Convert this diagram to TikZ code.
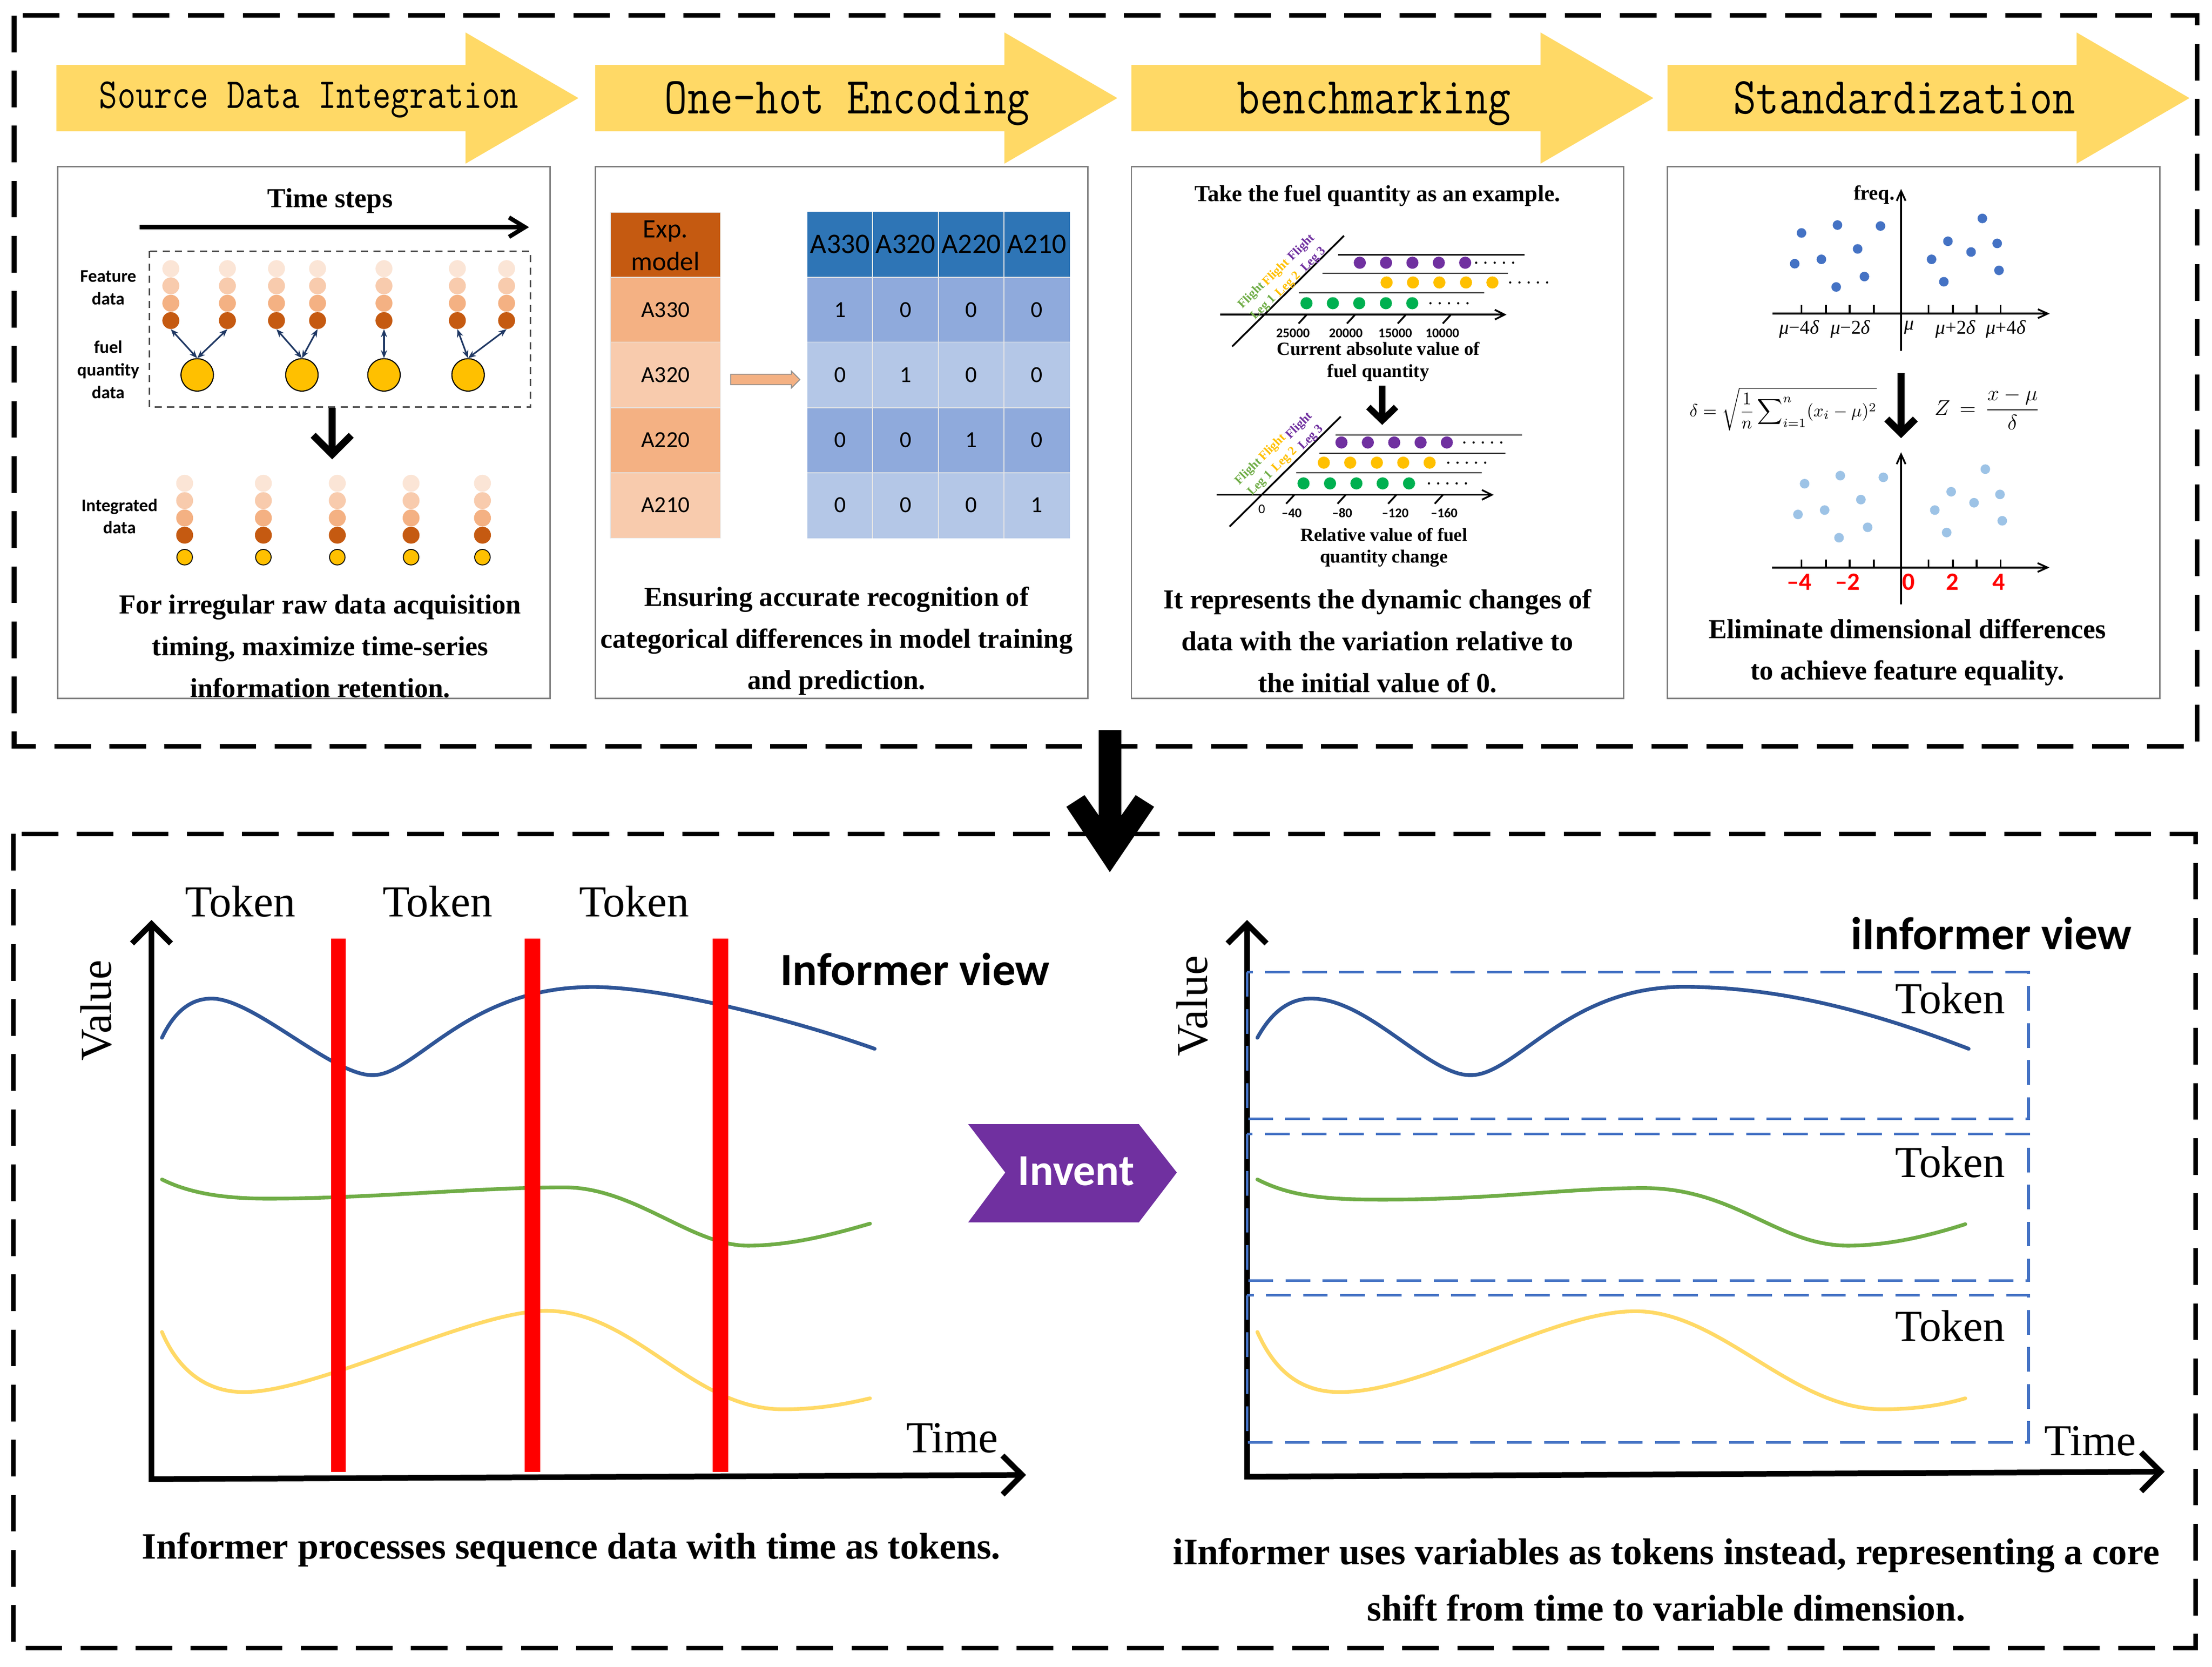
\documentclass[tikz,border=0pt]{standalone}
\usepackage{amsmath}
\usepackage{fontspec}
\setmainfont{Liberation Serif}
\newfontfamily\calfont{Carlito}
\usetikzlibrary{arrows.meta}
\definecolor{hdyel}{HTML}{FFD966}
\definecolor{or1}{HTML}{FBE5D6}
\definecolor{or2}{HTML}{F8CBAD}
\definecolor{or3}{HTML}{F4B183}
\definecolor{or4}{HTML}{C55A11}
\definecolor{fuely}{HTML}{FFC000}
\definecolor{navy}{HTML}{1F3864}
\definecolor{tbh}{HTML}{2E75B6}
\definecolor{tb1}{HTML}{8FAADC}
\definecolor{tb2}{HTML}{B4C7E7}
\definecolor{purp}{HTML}{7030A0}
\definecolor{grn}{HTML}{00B050}
\definecolor{leggrn}{HTML}{70AD47}
\definecolor{dotblue}{HTML}{4472C4}
\definecolor{ltblue}{HTML}{9DC3E6}
\definecolor{cblue}{HTML}{2F5597}
\definecolor{cgreen}{HTML}{70AD47}
\definecolor{cyel}{HTML}{FFD966}
\begin{document}
\begin{tikzpicture}[x=0.028cm, y=-0.028cm,
  outerdash/.style={draw=black, line width=2.6pt, dash pattern=on 20.7pt off 10.4pt},
  panel/.style={draw=black!50, line width=0.8pt},
  hdarrow/.style={fill=hdyel},
  hdtext/.style={inner sep=0, anchor=base, font=\ttfamily\fontsize{25pt}{30pt}\selectfont},
  pcap/.style={inner sep=0, align=center, font=\bfseries\fontsize{15.5pt}{23.5pt}\selectfont},
  slbl/.style={inner sep=0, align=center, font=\calfont\bfseries\fontsize{10pt}{12.7pt}\selectfont},
  dbl/.style={draw=navy, line width=0.9pt, {Stealth[length=4.5pt,width=3.5pt]}-{Stealth[length=4.5pt,width=3.5pt]}},
  fuel/.style={circle, fill=fuely, draw=black, line width=0.6pt, inner sep=0, minimum size=18.3pt},
  cell/.style={draw=white!80!gray, line width=0.5pt},
  ttext/.style={inner sep=0, font=\calfont\fontsize{13pt}{15pt}\selectfont},
  thtext/.style={inner sep=0, align=center, font=\calfont\fontsize{16pt}{18.6pt}\selectfont},
  hline/.style={line width=0.6pt},
  axthin/.style={line width=1pt, -{Straight Barb[length=5.5pt,width=5.5pt]}},
  flbl/.style={inner sep=0, align=center, rotate=45, font=\bfseries\fontsize{7pt}{9.5pt}\selectfont},
  ticklbl/.style={inner sep=0, font=\calfont\bfseries\fontsize{7.5pt}{9pt}\selectfont},
  sublbl/.style={inner sep=0, align=center, font=\bfseries\fontsize{10.5pt}{12.3pt}\selectfont},
  downarr/.style={line width=4pt, miter limit=10},
  bigax/.style={line width=3.2pt, {Straight Barb[length=11pt,width=22pt]}-{Straight Barb[length=11pt,width=22pt]}},
  bigtxt/.style={inner sep=0, font=\fontsize{25pt}{30pt}\selectfont},
  viewtxt/.style={inner sep=0, font=\calfont\bfseries\fontsize{26pt}{30pt}\selectfont},
  crv/.style={line width=2.1pt, line cap=round},
  bcap/.style={inner sep=0, align=center, font=\bfseries\fontsize{21pt}{31.9pt}\selectfont},
  tokbox/.style={draw=dotblue, line width=1.5pt, dash pattern=on 13.9pt off 7pt},
  redlbl/.style={inner sep=0, text=red, font=\calfont\bfseries\fontsize{14pt}{16pt}\selectfont},
  mulbl/.style={inner sep=0, font=\fontsize{11pt}{13pt}\selectfont},
]
\useasboundingbox (0,0) rectangle (1568,1181.4);
\fill[white] (0,0) rectangle (1568,1181.4);

% ---------- outer dashed boxes ----------
\draw[outerdash] (10,11) rectangle (1557.5,529);
\draw[outerdash] (9.5,591) rectangle (1556.5,1168);

% ---------- heading arrows ----------
\foreach \x in {40,422,802,1182}{
  \fill[hdarrow] (\x,46) -- (\x+290,46) -- (\x+290,23) -- (\x+370,69.5) -- (\x+290,116) -- (\x+290,93) -- (\x,93) -- cycle;
}
\node[hdtext, font=\ttfamily\fontsize{20pt}{24pt}\selectfont] (h1) at (219,76.8) {\scalebox{1}[1.2]{Source Data Integration}};
\node[hdtext] (h2) at (600.5,80.4) {\scalebox{1}[1.17]{One-hot Encoding}};
\node[hdtext] (h3) at (974,80.4) {\scalebox{1}[1.17]{benchmarking}};
\node[hdtext] (h4) at (1350,80.4) {\scalebox{1}[1.17]{Standardization}};

% ---------- panels ----------
\draw[panel] (41,118) rectangle (390,495);
\draw[panel] (422,118) rectangle (771,495);
\draw[panel] (802,118) rectangle (1151,495);
\draw[panel] (1182,118) rectangle (1531,495);

% ---------- panel 1 ----------
\node[inner sep=0, font=\bfseries\fontsize{15.5pt}{18pt}\selectfont] (ts) at (234,142.5) {Time steps};
\draw[line width=2.4pt, -{Straight Barb[length=9pt,width=11pt]}] (99,161) -- (375,161);
\draw[black!70, line width=0.8pt, dash pattern=on 4pt off 3pt] (106,178) rectangle (376,288.6);
\foreach \x in {121.1,161.2,196,225.1,272.2,324.2,359.1}{
  \fill[or1] (\x,190.4) circle[radius=6];
  \fill[or2] (\x,202.6) circle[radius=6];
  \fill[or3] (\x,214.9) circle[radius=6];
  \fill[or4] (\x,227.2) circle[radius=6];
}
\node[fuel] (f1) at (139.8,265.7) {};
\node[fuel] (f2) at (214.0,265.7) {};
\node[fuel] (f3) at (272.2,265.7) {};
\node[fuel] (f4) at (331.8,265.7) {};
\coordinate (c1) at (121.1,233.3);
\coordinate (c2) at (161.2,233.3);
\coordinate (c3) at (196,233.3);
\coordinate (c4) at (225.1,233.3);
\coordinate (c5) at (272.2,233.3);
\coordinate (c6) at (324.2,233.3);
\coordinate (c7) at (359.1,233.3);
\draw[dbl] (f1.north) -- (c1);
\draw[dbl] (f1.north) -- (c2);
\draw[dbl] (f2.north) -- (c3);
\draw[dbl] (f2.north) -- (c4);
\draw[dbl] (f3.north) -- (c5);
\draw[dbl] (f4.north) -- (c6);
\draw[dbl] (f4.north) -- (c7);
\node[slbl] (featlbl) at (76.7,204) {Feature\\data};
\node[slbl] (fuellbl) at (76.7,262) {fuel\\quantity\\data};
\draw[downarr] (235.5,289) -- (235.5,321);
\draw[downarr] (222,308.5) -- (235.5,322) -- (249,308.5);
\foreach \x in {130.9,186.7,239.1,291.4,342}{
  \fill[or1] (\x,342.5) circle[radius=6];
  \fill[or2] (\x,354.8) circle[radius=6];
  \fill[or3] (\x,367.1) circle[radius=6];
  \fill[or4] (\x,379.3) circle[radius=6];
  \filldraw[fill=fuely, draw=black, line width=0.5pt] (\x,394.9) circle[radius=5.5];
}
\node[slbl] (intlbl) at (84.7,366) {Integrated\\data};
\node[pcap] (cap1) at (227,458) {For irregular raw data acquisition\\timing, maximize time-series\\information retention.};

% ---------- panel 2 ----------
\fill[or4] (432.7,150.6) rectangle (510.7,196.5);
\fill[or3] (432.7,196.5) rectangle (510.7,242.4);
\fill[or2] (432.7,242.4) rectangle (510.7,289);
\fill[or3] (432.7,289) rectangle (510.7,335.2);
\fill[or2] (432.7,335.2) rectangle (510.7,381.4);
\draw[cell] (432.7,150.6) rectangle (510.7,381.4);
\foreach \y in {196.5,242.4,289,335.2}{\draw[cell] (432.7,\y) -- (510.7,\y);}
\fill[tbh] (572.3,149.9) rectangle (758.4,196.5);
\fill[tb1] (572.3,196.5) rectangle (758.4,242.4);
\fill[tb2] (572.3,242.4) rectangle (758.4,289);
\fill[tb1] (572.3,289) rectangle (758.4,335.2);
\fill[tb2] (572.3,335.2) rectangle (758.4,381.4);
\foreach \x in {618.5,665.2,711.7}{\draw[cell] (\x,149.9) -- (\x,381.4);}
\foreach \y in {196.5,242.4,289,335.2}{\draw[cell] (572.3,\y) -- (758.4,\y);}
\node[thtext, font=\calfont\fontsize{15pt}{18.6pt}\selectfont] (expm) at (471.7,174) {Exp.\\model};
\node[ttext] (r1) at (471.7,219.8) {A330};
\node[ttext] (r2) at (471.7,265.7) {A320};
\node[ttext] (r3) at (471.7,311.9) {A220};
\node[ttext] (r4) at (471.7,358) {A210};
\node[thtext] (k1) at (595.4,173.2) {A330};
\node[thtext] (k2) at (641.9,173.2) {A320};
\node[thtext] (k3) at (688.5,173.2) {A220};
\node[thtext] (k4) at (735,173.2) {A210};
\foreach \v [count=\i] in {1,0,0,0}{\node[ttext] (va\i) at ({595.4+46.53*(\i-1)},219.8) {\v};}
\foreach \v [count=\i] in {0,1,0,0}{\node[ttext] (vb\i) at ({595.4+46.53*(\i-1)},265.7) {\v};}
\foreach \v [count=\i] in {0,0,1,0}{\node[ttext] (vc\i) at ({595.4+46.53*(\i-1)},311.9) {\v};}
\foreach \v [count=\i] in {0,0,0,1}{\node[ttext] (vd\i) at ({595.4+46.53*(\i-1)},358) {\v};}
\filldraw[fill=or3, draw=black!45, line width=0.5pt] (518,265.3) -- (561,265.3) -- (561,263) -- (567,269) -- (561,275) -- (561,272.7) -- (518,272.7) -- cycle;
\node[pcap] (cap2) at (593,454.3) {Ensuring accurate recognition of\\categorical differences in model training\\and prediction.};

% ---------- panel 3 ----------
\node[inner sep=0, font=\bfseries\fontsize{13pt}{15pt}\selectfont] (p3t) at (976.4,138.8) {Take the fuel quantity as an example.};
% upper chart
\draw[hline] (948.6,180.6) -- (1080.7,180.6);
\draw[hline] (937.6,193.6) -- (1069,193.6);
\draw[hline] (920.6,207.6) -- (1052.2,207.6);
\draw[axthin] (864.8,223) -- (1067.9,223);
\draw[line width=1pt] (873.4,245.6) -- (952.7,167.1);
\foreach \x in {923.4,957.7,993.7,1025.6}{\draw[line width=1pt] (\x-2.9,229.3) -- (\x+2.9,223);}
\foreach \x in {963.9,982.5,1001.2,1019.9,1038.6}{\fill[purp] (\x,186.2) circle[radius=4.3];}
\foreach \x in {982.9,1001.6,1020.3,1039.2,1057.9}{\fill[fuely] (\x,200.2) circle[radius=4.3];}
\foreach \x in {926.1,944.8,963.5,982.4,1001.1}{\fill[grn] (\x,214.9) circle[radius=4.3];}
\foreach \i in {0,...,4}{
  \fill (1046.4+6.55*\i,186.2) circle[radius=0.8];
  \fill (1070.5+6.55*\i,200.2) circle[radius=0.8];
  \fill (1014+6.55*\i,214.9) circle[radius=0.8];
}
\node[flbl, text=leggrn] (ul1) at (891.5,213.8) {Flight\\Leg 1};
\node[flbl, text=fuely] (ul2) at (909,197.5) {Flight\\Leg 2};
\node[flbl, text=purp] (ul3) at (927,179.8) {Flight\\Leg 3};
\node[ticklbl] (ut1) at (916.5,236.3) {25000};
\node[ticklbl] (ut2) at (954,236.3) {20000};
\node[ticklbl] (ut3) at (989,236.3) {15000};
\node[ticklbl] (ut4) at (1022.4,236.3) {10000};
\node[sublbl] (ucap) at (977,256.3) {Current absolute value of\\fuel quantity};
\draw[line width=3.6pt] (979.8,273.4) -- (979.8,296);
\draw[line width=3.6pt, miter limit=10] (970,288.5) -- (979.8,298) -- (989.6,288.5);
% lower chart
\draw[hline] (946.7,308.2) -- (1078.9,308.2);
\draw[hline] (935.4,321.2) -- (1067,321.2);
\draw[hline] (918.8,335.2) -- (1050.2,335.2);
\draw[axthin] (862.5,350.7) -- (1058.8,350.7);
\draw[line width=1pt] (871.6,373.2) -- (950.4,295.2);
\foreach \x in {914.6,951,986.9,1019.9}{\draw[line width=1pt] (\x-2.9,357) -- (\x+2.9,350.7);}
\foreach \x in {950.9,969.6,988.3,1007.0,1025.6}{\fill[purp] (\x,313.6) circle[radius=4.3];}
\foreach \x in {938.4,957.1,976,994.7,1013.4}{\fill[fuely] (\x,327.9) circle[radius=4.3];}
\foreach \x in {924,942.8,961.5,980.1,998.8}{\fill[grn] (\x,342.6) circle[radius=4.3];}
\foreach \i in {0,...,4}{
  \fill (1038+6.55*\i,313.6) circle[radius=0.8];
  \fill (1026.6+6.55*\i,327.9) circle[radius=0.8];
  \fill (1012.9+6.55*\i,342.6) circle[radius=0.8];
}
\node[flbl, text=leggrn] (ll1) at (889.3,338.5) {Flight\\Leg 1};
\node[flbl, text=fuely] (ll2) at (906.5,321.5) {Flight\\Leg 2};
\node[flbl, text=purp] (ll3) at (925.3,306) {Flight\\Leg 3};
\node[ticklbl, font=\calfont\fontsize{7.5pt}{9pt}\selectfont] (lt0) at (894.4,361) {0};
\node[ticklbl] (lt1) at (915.6,363.5) {\textendash40};
\node[ticklbl] (lt2) at (951.4,363.5) {\textendash80};
\node[ticklbl] (lt3) at (989,363.5) {\textendash120};
\node[ticklbl] (lt4) at (1023.7,363.5) {\textendash160};
\node[sublbl] (lcap) at (981,388) {Relative value of fuel\\quantity change};
\node[pcap] (cap3) at (976.4,454.3) {It represents the dynamic changes of\\data with the variation relative to\\the initial value of 0.};

% ---------- panel 4 ----------
\draw[line width=1pt, -{Straight Barb[length=5.5pt,width=5pt]}] (1256.5,222.3) -- (1453,222.3);
\draw[line width=1pt, -{Straight Barb[length=5.5pt,width=5pt]}] (1347.6,248.8) -- (1347.6,133.9);
\foreach \x in {1277,1294.3,1311.1,1328.2,1367.1,1384.3,1401.1,1418.2}{\draw[line width=1pt] (\x,216.1) -- (\x,222.3);}
\node[inner sep=0, font=\bfseries\fontsize{11.5pt}{13pt}\selectfont] (freq) at (1328.5,138.1) {freq.};
\node[mulbl] (m1) at (1275.4,233.3) {\textit{μ}−4\textit{δ}};
\node[mulbl] (m2) at (1311.8,233.3) {\textit{μ}−2\textit{δ}};
\node[mulbl] (m3) at (1353.5,232.3) {\textit{μ}};
\node[mulbl] (m4) at (1386.3,233.3) {\textit{μ}+2\textit{δ}};
\node[mulbl] (m5) at (1421.9,233.3) {\textit{μ}+4\textit{δ}};
\foreach \p in {(1277,165.1),(1272.2,186.9),(1302.5,159.5),(1291.1,183.8),(1316.8,176.4),(1301.6,203.4),(1321.6,196),(1333,160.2),(1369.2,183.8),(1380.8,171),(1377.9,199.7),(1397.2,178.6),(1405.2,154.8),(1415.7,172.5),(1417,191.6)}{\fill[dotblue] \p circle[radius=3.4];}
\draw[line width=4pt] (1347.6,264.5) -- (1347.6,305);
\draw[line width=4pt, miter limit=10] (1337.5,297) -- (1347.6,307) -- (1357.7,297);
\node[inner sep=0, font=\fontsize{10pt}{12pt}\selectfont] (sdf) at (1264,289.8) {$\displaystyle\delta=\sqrt{\frac{1}{n}\sum\nolimits_{i=1}^{n}(x_i-\mu)^2}$};
\node[inner sep=0, font=\fontsize{13pt}{15pt}\selectfont] (zf) at (1408.6,289.8) {$\displaystyle Z\,=\,\frac{x-\mu}{\delta}$};
\draw[line width=1pt, -{Straight Barb[length=5.5pt,width=5pt]}] (1256,402.2) -- (1452.8,402.2);
\draw[line width=1pt, -{Straight Barb[length=5.5pt,width=5pt]}] (1347.6,428.5) -- (1347.6,320.5);
\foreach \x in {1277,1294.3,1311.1,1328.2,1367.1,1384.3,1401.1,1418.2}{\draw[line width=1pt] (\x,396.6) -- (\x,402.2);}
\foreach \p in {(1279.2,342.8),(1274.5,364.6),(1304.5,337.1),(1293.4,361.5),(1319.1,354.1),(1303.6,381.1),(1323.9,373.7),(1335,338.3),(1371.5,361.5),(1383.1,348.5),(1379.9,377.4),(1399.3,356.3),(1407.3,332.5),(1417.7,350.4),(1419.3,369.1)}{\fill[ltblue] \p circle[radius=3.4];}
\node[redlbl] (z1) at (1275.4,412.5) {\textendash4};
\node[redlbl] (z2) at (1309.6,412.5) {\textendash2};
\node[redlbl] (z3) at (1352.8,412.5) {0};
\node[redlbl] (z4) at (1383.9,412.5) {2};
\node[redlbl] (z5) at (1417,412.5) {4};
\node[pcap] (cap4) at (1352.1,462.3) {Eliminate dimensional differences\\to achieve feature equality.};

% ---------- big arrow between boxes ----------
\fill[black] (778.9,517.4) -- (778.9,578) -- (768.8,563.5) -- (755.9,571.8) -- (786.7,618.1) -- (818.1,571.8) -- (805,563.5) -- (794.8,578) -- (794.8,517.4) -- cycle;

% ---------- bottom left: Informer view ----------
\draw[crv, cblue] (114.8,735.5) .. controls (124,716) and (136,707.7) .. (150,707.7) .. controls (180,707.7) and (235,762) .. (264,762) .. controls (295,762) and (330,699.5) .. (420,699.5) .. controls (470,699.5) and (560,722) .. (620,743.3);
\draw[crv, cgreen] (114.8,835.9) .. controls (135,846) and (160,849.5) .. (190,849.5) .. controls (260,849.5) and (340,841.5) .. (400,841.5) .. controls (450,841.5) and (490,882.8) .. (530,882.8) .. controls (560,882.8) and (590,875) .. (616.7,867.2);
\draw[crv, cyel] (114.8,944) .. controls (128,975) and (150,986.6) .. (172.9,986.6) .. controls (225,986.6) and (335,929) .. (387,929) .. controls (450,929) and (490,998.8) .. (555,998.8) .. controls (580,998.8) and (600,995) .. (616.7,991);
\fill[red] (234.8,665.1) rectangle (245.2,1043.1);
\fill[red] (372,665.1) rectangle (383,1043.1);
\fill[red] (505.3,665.1) rectangle (516.3,1043.1);
\draw[bigax] (107.4,652) -- (107.4,1048.3) -- (727.3,1045.3);
\node[bigtxt] (tk1) at (170.3,639) {Token};
\node[bigtxt] (tk2) at (310.2,639) {Token};
\node[bigtxt] (tk3) at (449.6,639) {Token};
\node[bigtxt, rotate=90] (val1) at (68,716) {Value};
\node[bigtxt] (time1) at (675,1019.2) {Time};
\node[viewtxt] (iv1) at (648.7,686.8) {Informer view};
\node[bcap] (bcap1) at (405,1098.3) {Informer processes sequence data with time as tokens.};

% ---------- Invent ----------
\fill[purp] (686.3,796.7) -- (807.3,796.7) -- (834.2,831) -- (807.3,866.3) -- (686.3,866.3) -- (712.6,831) -- cycle;
\node[inner sep=0, text=white, font=\calfont\bfseries\fontsize{25pt}{30pt}\selectfont] (inv) at (762.8,829.9) {Invent};

% ---------- bottom right: iInformer view ----------
\draw[bigax] (884,652) -- (884,1046.6) -- (1534.4,1043);
\draw[tokbox] (884,689) rectangle (1437.9,793);
\draw[tokbox] (884,803.7) rectangle (1437.9,907.6);
\draw[tokbox] (884,918) rectangle (1437.9,1022.3);
\draw[crv, cblue] (891.3,735.5) .. controls (902,716) and (915,707.7) .. (929.3,707.7) .. controls (970,707.7) and (1012,762) .. (1042.3,762) .. controls (1075,762) and (1110,699.4) .. (1193.4,699.4) .. controls (1270,699.4) and (1340,722) .. (1395.5,743.3);
\draw[crv, cgreen] (891.3,835.9) .. controls (915,848) and (940,850.2) .. (980,850.2) .. controls (1060,850.2) and (1110,842) .. (1165,842) .. controls (1230,842) and (1260,882.8) .. (1310,882.8) .. controls (1340,882.8) and (1370,875) .. (1393.1,867.6);
\draw[crv, cyel] (891.3,944) .. controls (905,975) and (925,986.6) .. (949.8,986.6) .. controls (1010,986.6) and (1100,929.3) .. (1159.3,929.3) .. controls (1220,929.3) and (1270,998.8) .. (1334.6,998.8) .. controls (1360,998.8) and (1380,995) .. (1393.1,991);
\node[bigtxt] (tk4) at (1382.4,707.7) {Token};
\node[bigtxt] (tk5) at (1382.4,823.7) {Token};
\node[bigtxt] (tk6) at (1382.4,939.7) {Token};
\node[bigtxt, rotate=90] (val2) at (845,713) {Value};
\node[bigtxt] (time2) at (1481.8,1021.4) {Time};
\node[viewtxt] (iv2) at (1411.6,661.6) {iInformer view};
\node[bcap] (bcap2) at (1181.2,1119.6) {iInformer uses variables as tokens instead, representing a core\\shift from time to variable dimension.};
\end{tikzpicture}
\end{document}
